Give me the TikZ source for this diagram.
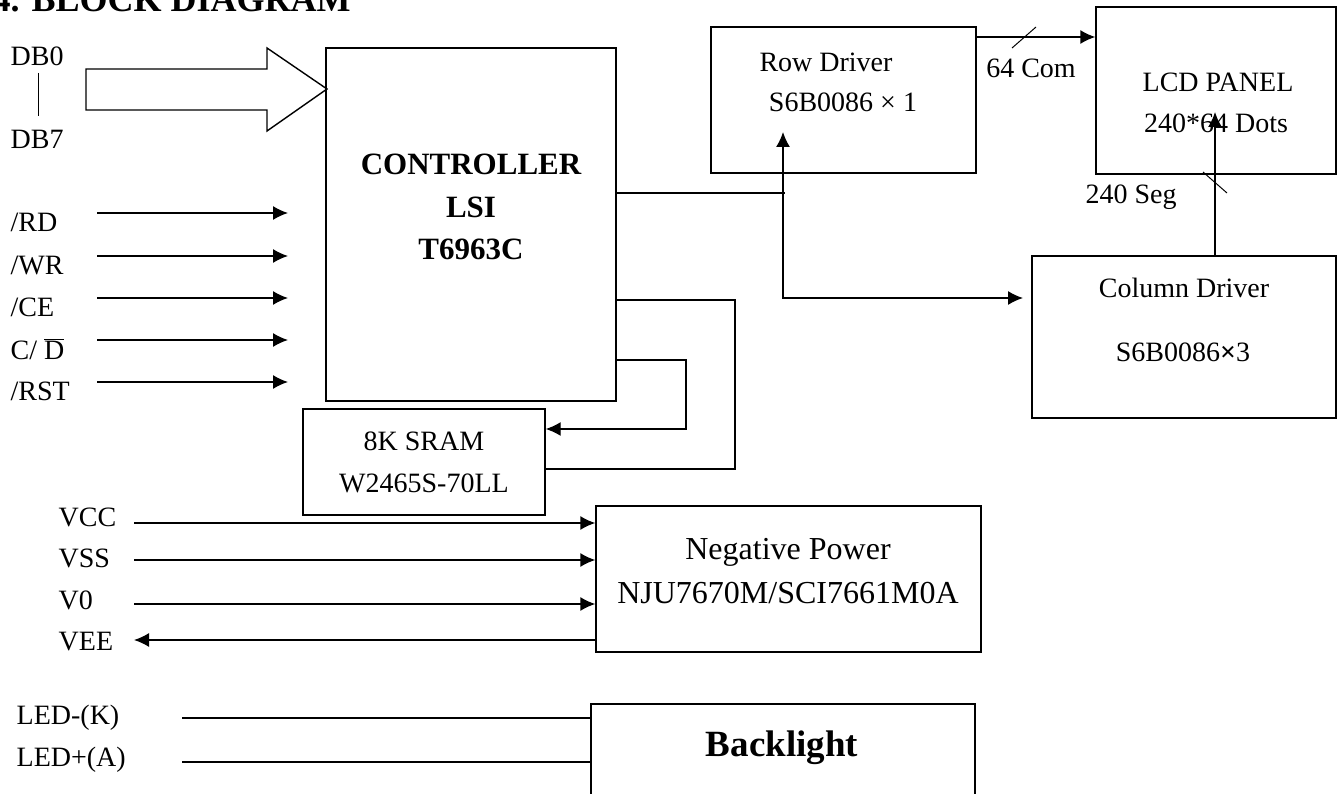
\documentclass[tikz,border=0pt]{standalone}
\usepackage{fontspec}
\setmainfont{Liberation Serif}
\usetikzlibrary{arrows.meta}

\begin{document}
\begin{tikzpicture}[x = 1pt, y = -1pt, > = {Latex[length = 15pt, width = 14pt]},
	line width = 1.4pt,
	every node/.style = {font = \fontsize{28}{34}\selectfont, inner sep = 0pt},
	block/.style = {draw, rectangle}]

\useasboundingbox (0, 0) rectangle (1338, 794);

	% Title
	
	\node [anchor = base west, font = \bfseries\fontsize{36}{40}\selectfont] (title) at (-8, 12) {4. BLOCK DIAGRAM};
	
	% Blocks
	
	\node [block, minimum width = 290, minimum height = 353] (ctrl) at (471, 224.5) {};
	\node [block, minimum width = 242, minimum height = 106, align = center, font = \fontsize{28}{42}\selectfont] (sram) at (424, 462) {8K SRAM\\W2465S-70LL};
	\node [block, minimum width = 265, minimum height = 146] (row) at (843.5, 100) {};
	\node [block, minimum width = 240, minimum height = 167] (lcd) at (1216, 90.5) {};
	\node [block, minimum width = 304, minimum height = 162] (col) at (1184, 337) {};
	\node [block, minimum width = 385, minimum height = 146] (neg) at (788.5, 579) {};
	\node [block, minimum width = 384, minimum height = 106] (back) at (783, 757) {};
	
	% Block texts
	
	\node [font = \bfseries\fontsize{31}{36}\selectfont] (ctrl1) at (471, 164) {CONTROLLER};
	\node [font = \bfseries\fontsize{31}{36}\selectfont] (ctrl2) at (471, 207) {LSI};
	\node [font = \bfseries\fontsize{31}{36}\selectfont] (ctrl3) at (471, 249) {T6963C};
	\node (row1) at (826, 62) {Row Driver};
	\node (row2) at (843, 102) {S6B0086 × 1};
	\node (lcd1) at (1218, 82) {LCD PANEL};
	\node (lcd2) at (1216, 123) {240*64 Dots};
	\node (col1) at (1184, 288) {Column Driver};
	\node (col2) at (1183, 352) {S6B0086{\bfseries ×}3};
	\node [font = \fontsize{32}{38}\selectfont] (neg1) at (788, 552) {Negative Power};
	\node [font = \fontsize{32}{38}\selectfont] (neg2) at (788, 593) {NJU7670M/SCI7661M0A};
	\node [font = \bfseries\fontsize{37}{42}\selectfont] (back1) at (782, 748) {Backlight};
	
	% Data bus
	
	\node [anchor = west] (db0) at (10, 56) {DB0};
	\node [anchor = west] (db7) at (10, 139) {DB7};
	\draw [line width = 1pt] (38, 73) -- (38, 116);
	\draw (86, 69) -- (267, 69) -- (267, 48) -- (327, 89) -- (267, 131) -- (267, 110) -- (86, 110) -- cycle;
	
	% Control signals
	
	\foreach \y/\name/\txt in {213/rd/{/RD}, 256/wr/{/WR}, 298/ce/{/CE}, 340/cd/{C/ $\overline{\mbox{D}}$}, 382/rst/{/RST}}{
		\node [anchor = west] (\name) at (10, \y + 9) {\txt};
		\coordinate (\name-s) at (97, \y);
		\coordinate (\name-e) at (288, \y);
		\draw [->] (\name-s) -- (\name-e);
	}
	
	% Controller to drivers
	
	\draw ([yshift = 31.5pt]ctrl.east) -- (785, 193);
	\coordinate (rowin) at (783, 132);
	\coordinate (colin) at (1023, 298);
	\draw [<->] (rowin) |- (colin);
	
	% Controller to SRAM
	
	\draw ([yshift = -75.5pt]ctrl.east) -- (735, 300) |- ([yshift = -7pt]sram.east);
	\draw [->] ([yshift = -135.5pt]ctrl.east) -- (686, 360) |- ([yshift = 33pt]sram.east);
	
	% Drivers to panel
	
	\draw [->] ([yshift = 63pt]row.east) -- ([yshift = 53.5pt]lcd.west);
	\draw [line width = 1pt] (1012, 48) -- (1036, 27);
	\node (com) at (1031, 68) {64 Com};
	\coordinate (lcdin) at (1215, 112);
	\draw [->] (col.north -| lcdin) -- (lcdin);
	\draw [line width = 1pt] (1203, 172) -- (1227, 193);
	\node (seg) at (1131, 197) {240 Seg};
	
	% Power
	
	\foreach \y/\ly/\name/\txt in {523/517/vcc/VCC, 560/558/vss/VSS, 604/600/vzero/V0}{
		\node [anchor = west] (\name) at (58, \ly) {\txt};
		\coordinate (\name-s) at (134, \y);
		\draw [->] (\name-s) -- (\name-s -| neg.west);
	}
	\node [anchor = west] (vee) at (58, 642) {VEE};
	\coordinate (vee-e) at (134, 640);
	\draw [->] (vee-e -| neg.west) -- (vee-e);
	
	% Backlight
	
	\foreach \y/\ly/\name/\txt in {718/718/ledk/LED-(K), 762/760/leda/LED+(A)}{
		\node [anchor = west] (\name) at (16, \ly) {\txt};
		\coordinate (\name-s) at (182, \y);
		\draw (\name-s) -- (\name-s -| back.west);
	}

\end{tikzpicture}
\end{document}
